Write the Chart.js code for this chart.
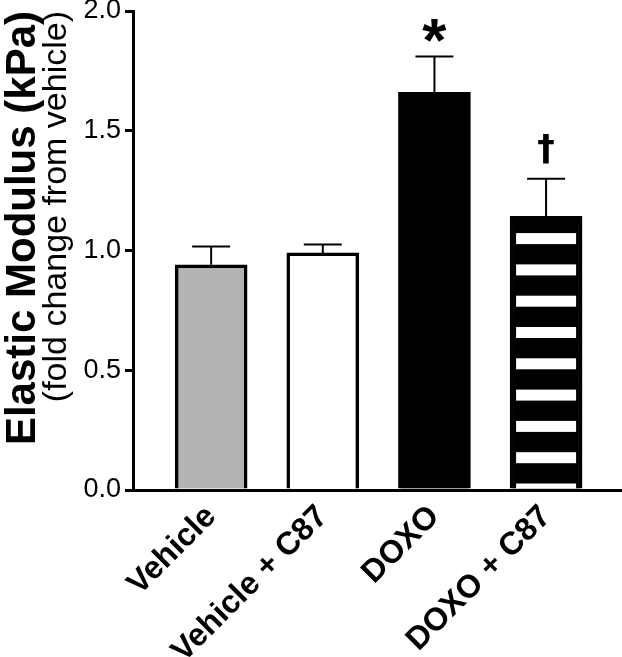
<!DOCTYPE html>
<html><head><meta charset="utf-8">
<script src="https://cdn.jsdelivr.net/npm/chart.js@4/dist/chart.umd.min.js"></script>
<style>html,body{margin:0;padding:0;background:#fff}#wrap{width:622px;height:657px;position:relative}</style>
</head><body><div id="wrap"><canvas id="c"></canvas></div>
<script>
// ---- data ----
const categories = ['Vehicle', 'Vehicle + C87', 'DOXO', 'DOXO + C87'];
const means = [0.94, 0.99, 1.66, 1.143];
const sems = [0.077, 0.035, 0.15, 0.157];
const marks = ['', '', '*', '†'];
const yTicks = [0, 0.5, 1.0, 1.5, 2.0];

// ---- styles ----
const FONT = "'Liberation Sans', Arial, Helvetica, sans-serif";
const fills = ['#b3b3b3', '#ffffff', '#000000', '#000000'];
const borders = ['#000000', '#000000', '#000000', '#000000'];
const striped = [false, false, false, true];
const markFont = {'*': "bold 62px 'Liberation Sans', Arial, sans-serif", '†': "bold 35px 'DejaVu Sans', sans-serif"};

const overlay = {
  id: 'overlay',
  afterDatasetsDraw(chart) {
    const meta = chart.getDatasetMeta(0);
    const ys = chart.scales.y;
    const c = chart.ctx;
    c.save();
    meta.data.forEach((bar, i) => {
      const half = bar.width / 2;
      if (striped[i]) {
        const inset = 6, period = 31.3, band = 11;
        c.fillStyle = '#ffffff';
        for (let s = bar.base - 5; s > bar.y + inset; s -= period) {
          const h = Math.min(band, bar.base - s);
          c.fillRect(bar.x - half + inset, s, bar.width - 2 * inset, h);
        }
      }
      const top = ys.getPixelForValue(means[i] + sems[i]);
      c.strokeStyle = '#000';
      c.lineWidth = 2;
      c.beginPath();
      c.moveTo(bar.x, bar.y);
      c.lineTo(bar.x, top);
      c.moveTo(bar.x - 19, top);
      c.lineTo(bar.x + 19, top);
      c.stroke();
      const m = marks[i];
      if (m) {
        c.font = markFont[m];
        c.fillStyle = '#000';
        c.textAlign = 'center';
        c.textBaseline = 'alphabetic';
        const d = c.measureText(m).actualBoundingBoxDescent;
        c.fillText(m, bar.x, top - 15 - d);
      }
    });
    c.restore();
  }
};

new Chart(document.getElementById('c'), {
  type: 'bar',
  data: {
    datasets: [{
      data: categories.map((_, i) => ({x: i, y: means[i]})),
      backgroundColor: fills,
      borderColor: borders,
      borderWidth: 3.5,
      borderSkipped: 'start',
      barThickness: 72
    }]
  },
  plugins: [overlay],
  options: {
    responsive: true,
    maintainAspectRatio: false,
    animation: false,
    layout: {padding: {top: 11, right: 0, bottom: 0, left: 0}},
    plugins: {legend: {display: false}, tooltip: {enabled: false}},
    scales: {
      x: {
        type: 'linear',
        offset: false,
        min: -0.7,
        max: 3.68,
        afterBuildTicks: s => { s.ticks = categories.map((_, i) => ({value: i})); },
        afterFit: s => { s.height = 167; s.paddingLeft = 0; s.paddingRight = 0; },
        grid: {display: false},
        border: {display: true, color: '#000', width: 3},
        ticks: {
          autoSkip: false,
          minRotation: 45,
          maxRotation: 45,
          padding: 0,
          color: '#000',
          font: {family: FONT, size: 32, weight: 'bold'},
          callback: v => categories[v]
        }
      },
      y: {
        min: 0,
        max: 2,
        weight: 0,
        afterBuildTicks: s => { s.ticks = yTicks.map(v => ({value: v})); },
        afterFit: s => { s.width = 95; s.paddingTop = 0; s.paddingBottom = 0; },
        grid: {display: true, drawOnChartArea: false, drawTicks: true, tickLength: 8, lineWidth: 3, color: '#000'},
        border: {display: true, color: '#000', width: 3},
        ticks: {
          padding: 4,
          color: '#000',
          font: {family: FONT, size: 27},
          callback: v => Number(v).toFixed(1)
        },
        title: {
          display: true,
          text: '(fold change from vehicle)',
          align: 'end',
          color: '#000',
          padding: {top: 2, bottom: 0},
          font: {family: FONT, size: 34, lineHeight: 1}
        }
      },
      yTitle: {
        type: 'linear',
        position: 'left',
        weight: 1,
        afterFit: s => { s.width = 38; },
        grid: {display: false},
        border: {display: false},
        ticks: {display: false},
        title: {
          display: true,
          text: 'Elastic Modulus (kPa)',
          align: 'end',
          color: '#000',
          padding: {top: 2, bottom: 0},
          font: {family: FONT, size: 42, weight: 'bold', lineHeight: 1}
        }
      }
    }
  }
});
</script>
</body></html>
